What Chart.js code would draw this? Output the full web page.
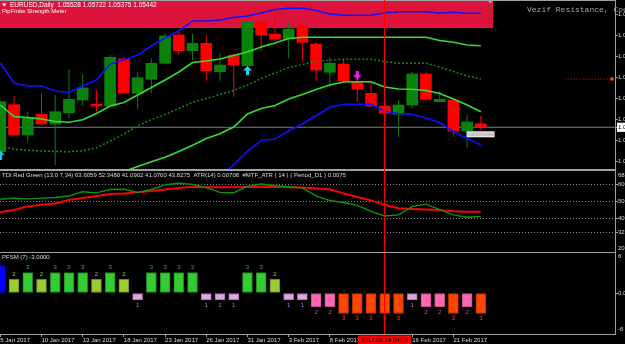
<!DOCTYPE html>
<html><head><meta charset="utf-8">
<script src="https://cdn.jsdelivr.net/npm/chart.js@4.4.0/dist/chart.umd.min.js"></script>
<style>
html,body{margin:0;padding:0;background:#000;overflow:hidden;}
#wrap{position:relative;width:625px;height:344px;background:#000;overflow:hidden;}
canvas{position:absolute;left:0;top:0;pointer-events:none;}
</style></head><body>
<div id="wrap">
<canvas id="cMain" width="625" height="344"></canvas>
<canvas id="cTdi" width="625" height="344"></canvas>
<canvas id="cPfsm" width="625" height="344"></canvas>
</div>
<script>
// ================= DATA =================
const barDates = ['5 Jan','6 Jan','9 Jan','10 Jan','11 Jan','12 Jan','13 Jan','16 Jan','17 Jan','18 Jan','19 Jan','20 Jan',
  '23 Jan','24 Jan','25 Jan','26 Jan','27 Jan','30 Jan','31 Jan','1 Feb','2 Feb','3 Feb','6 Feb','7 Feb','8 Feb','9 Feb',
  '10 Feb','13 Feb','14 Feb','15 Feb','16 Feb','17 Feb','20 Feb','21 Feb','22 Feb','23 Feb'];
const dateTickIdx = [0,3,6,9,12,15,18,21,24,30,33];
const dateTickLabels = ['5 Jan 2017','10 Jan 2017','13 Jan 2017','18 Jan 2017','23 Jan 2017','26 Jan 2017',
  '31 Jan 2017','3 Feb 2017','8 Feb 2017','16 Feb 2017','21 Feb 2017'];

const opens  = [1.04856,1.05984,1.05257,1.05754,1.05521,1.05792,1.06097,1.05999,1.05953,1.07081,1.06258,1.06594,
  1.06978,1.07657,1.07280,1.07458,1.06776,1.07177,1.06920,1.07969,1.07681,1.07561,1.07873,1.07441,1.06762,1.06961,
  1.06536,1.06258,1.05953,1.05754,1.05977,1.06721,1.06056,1.06097,1.05353,1.05528];
const highs  = [1.06080,1.06193,1.05816,1.06258,1.06217,1.06834,1.06714,1.06337,1.07177,1.07136,1.06762,1.07098,
  1.07705,1.07729,1.07681,1.07657,1.07218,1.07218,1.08041,1.08096,1.08257,1.07969,1.07921,1.07482,1.07122,1.07074,
  1.06618,1.06522,1.05999,1.06097,1.06776,1.06762,1.06313,1.06138,1.05737,1.05722];
const lows   = [1.04830,1.05240,1.05096,1.05500,1.04537,1.05658,1.05977,1.05816,1.05929,1.06253,1.05874,1.06258,
  1.06961,1.07177,1.07057,1.06560,1.06560,1.06176,1.06901,1.07256,1.07513,1.07098,1.07040,1.06553,1.06416,1.06529,
  1.06056,1.05929,1.05737,1.05202,1.05898,1.06056,1.06049,1.05240,1.04938,1.05375];
const closes = [1.06056,1.05257,1.05682,1.05521,1.05816,1.06114,1.06385,1.05953,1.07122,1.06272,1.06632,1.06978,
  1.07633,1.07280,1.07458,1.06800,1.06937,1.06937,1.07969,1.07657,1.07561,1.07801,1.07482,1.06817,1.06978,1.06553,
  1.06361,1.05953,1.05778,1.05977,1.06721,1.06114,1.06114,1.05353,1.05569,1.05442];

const upperBlue = [1.06985,1.06505,1.06433,1.06433,1.06313,1.06277,1.06433,1.06577,1.06961,1.07057,1.07177,1.07393,
  1.07585,1.07753,1.07993,1.07993,1.08017,1.08077,1.08113,1.08185,1.08269,1.08298,1.08305,1.08245,1.08161,1.08130,
  1.08130,1.08130,1.08192,1.08216,1.08216,1.08216,1.08185,1.08202,1.08178,1.08178];
const lowerBlue = [null,null,null,null,null,null,null,null,null,null,null,null,null,null,null,null,
  1.04249,1.04544,1.04873,1.05125,1.05161,1.05353,1.05521,1.05725,1.05922,1.05994,1.05994,1.05994,1.05833,1.05773,
  1.05754,1.05665,1.05557,1.05336,1.05178,1.05017];
const greenUpper = [1.05977,1.05701,1.05677,1.05641,1.05581,1.05562,1.05624,1.05773,1.05953,1.06037,1.06217,1.06397,
  1.06577,1.06769,1.06997,1.07033,1.07081,1.07165,1.07249,1.07369,1.07465,1.07573,1.07602,1.07602,1.07602,1.07602,
  1.07602,1.07602,1.07602,1.07602,1.07602,1.07602,1.07525,1.07482,1.07417,1.07400];
const greenMid = [1.04976,1.04921,1.04890,1.04873,1.04861,1.04856,1.04880,1.04945,1.05113,1.05281,1.05473,1.05629,
  1.05749,1.05893,1.06037,1.06133,1.06229,1.06325,1.06457,1.06613,1.06745,1.06877,1.06949,1.07021,1.07057,1.07074,
  1.07074,1.07074,1.07016,1.06978,1.06978,1.06978,1.06889,1.06781,1.06673,1.06601];
const greenLower = [null,null,null,null,null,null,null,null,
  1.04273,1.04381,1.04501,1.04616,1.04724,1.04861,1.05010,1.05173,1.05288,1.05449,1.05761,1.05893,1.05965,1.06121,
  1.06229,1.06349,1.06457,1.06529,1.06536,1.06536,1.06409,1.06361,1.06354,1.06325,1.06253,1.06121,1.05977,1.05816];

const priceTicks = [1.08145,1.07650,1.07140,1.06635,1.06130,1.05630,1.05135,1.04620];
const priceMin = 1.04441, priceMax = 1.08497;
const buyArrows  = [{bar:0, price:1.04777},{bar:18, price:1.06805}];
const sellArrows = [{bar:26, price:1.06697}];
const levelLine = {price:1.06601, fromBar:41.1, toBar:44.55};
const markerBox = {price:1.05274, fromBar:34.0, toBar:35.96};

const tdiRed   = [43.6,44.9,47.0,47.9,48.7,50.8,51.9,53.1,54.3,54.6,55.2,56.0,56.9,57.8,58.5,58.2,58.2,58.2,
  58.4,58.5,58.4,58.2,58.1,57.5,57.0,54.6,52.5,50.5,47.9,45.9,45.5,45.2,44.8,44.1,43.9,43.8];
const tdiGreen = [51.2,51.8,51.4,51.8,52.2,53.1,55.6,54.9,56.9,57.0,55.2,56.9,59.6,60.5,59.9,58.0,55.2,55.0,
  58.7,60.1,59.1,58.5,57.8,53.1,50.4,49.3,47.6,44.1,41.4,42.0,46.9,48.3,45.1,42.0,40.6,41.1];
const tdiLevels = [60,50,40,32];
const tdiMin = 20, tdiMax = 68;

const pfsm = [4,2,3,2,3,3,3,2,3,2,-1,3,3,3,3,-1,-1,-1,3,3,2,-1,-1,-2,-2,-3,-3,-3,-3,-3,-1,-2,-2,-3,-2,-3];
const pfsmMin = -6, pfsmMax = 6;

const crossBar = 28;
const crossLabel = '2017.02.14 04:00';
const tdiTitle = 'TDI Red Green (13,0 7,34) 63.6059 52.3480 41.0902 41.0760 43.8275  ATR(14) 0.00708  #MTF_ATR ( 14 ) ( Period_D1 ) 0.0075';

// ================= STYLE / HELPERS =================
const FONT = '"Liberation Sans", Arial, sans-serif';
const GRAY = '#a0a0a0', TXT = '#dadada';
Chart.defaults.font.family = FONT;
Chart.defaults.font.size = 6;
Chart.defaults.color = TXT;
const xMin = -0.022, xMax = 44.77;
const lastIdx = closes.length - 1;
const lastClose = closes[lastIdx];

function zeroPad(s){ s.paddingTop=0; s.paddingBottom=0; s.paddingLeft=0; s.paddingRight=0; }
function hiddenX(){ return {type:'linear', min:xMin, max:xMax, display:false, offset:false, grid:{offset:false}}; }
function pts(arr){ return arr.map((v,i)=>({x:i, y:v})); }
const common = {responsive:false, animation:false, events:[], maintainAspectRatio:false,
  plugins:{legend:{display:false}, tooltip:{enabled:false}}};

const framePlugin = {
  id:'frame',
  afterDraw(chart){
    const {ctx, chartArea:a} = chart;
    ctx.save(); ctx.strokeStyle = GRAY; ctx.lineWidth = 1;
    ctx.beginPath();
    ctx.moveTo(a.left, Math.floor(a.top)+0.5); ctx.lineTo(a.right, Math.floor(a.top)+0.5);
    ctx.moveTo(a.left, Math.floor(a.bottom)+0.5); ctx.lineTo(a.right, Math.floor(a.bottom)+0.5);
    ctx.stroke(); ctx.restore();
  }
};
const edgeLabels = {
  id:'edgeLabels',
  afterDraw(chart){
    const {ctx, chartArea:a, scales:{y}} = chart;
    ctx.save(); ctx.fillStyle = TXT; ctx.font = '6px ' + FONT;
    ctx.textAlign='left'; ctx.textBaseline='middle';
    ctx.fillText(String(y.max), a.right + 3, a.top + 4.5);
    ctx.fillText(String(y.min), a.right + 3, a.bottom - 4.5);
    ctx.restore();
  }
};

function makeArrow(color, up){
  const c = document.createElement('canvas'); c.width = 9; c.height = 9;
  const g = c.getContext('2d'); g.fillStyle = color; g.beginPath();
  if (up){ g.moveTo(4.5,0); g.lineTo(9,4.5); g.lineTo(6,4.5); g.lineTo(6,9); g.lineTo(3,9); g.lineTo(3,4.5); g.lineTo(0,4.5); }
  else   { g.moveTo(4.5,9); g.lineTo(9,4.5); g.lineTo(6,4.5); g.lineTo(6,0); g.lineTo(3,0); g.lineTo(3,4.5); g.lineTo(0,4.5); }
  g.closePath(); g.fill(); return c;
}

// ================= MAIN CHART =================
const bull = closes.map((c,i)=> c >= opens[i]);
const mainDecor = {
  id:'mainDecor',
  beforeDatasetsDraw(chart){
    const {ctx, chartArea:a} = chart;
    ctx.save(); ctx.fillStyle = '#dc143c'; ctx.fillRect(a.left, a.top, 493, 28); ctx.restore();
  },
  afterDatasetsDraw(chart){
    const ctx = chart.ctx;
    ctx.save();
    ctx.fillStyle = '#ffffff';
    ctx.beginPath(); ctx.moveTo(2,3.5); ctx.lineTo(6.5,3.5); ctx.lineTo(4.25,6.5); ctx.closePath(); ctx.fill();
    ctx.textAlign='left'; ctx.textBaseline='middle';
    ctx.font = '6.5px ' + FONT;
    ctx.fillText('EURUSD,Daily  ' + opens[lastIdx].toFixed(5) + ' ' + highs[lastIdx].toFixed(5) + ' ' +
      lows[lastIdx].toFixed(5) + ' ' + closes[lastIdx].toFixed(5), 10, 5.5);
    ctx.font = '6px ' + FONT;
    ctx.fillText('PipFinite Strength Meter', 2, 11.7);
    ctx.fillStyle = '#a8a8a8'; ctx.font = '8px "Liberation Mono", monospace';
    ctx.fillText('Vezif Resistance, Cou', 527, 10);
    ctx.fillStyle = GRAY; ctx.beginPath(); ctx.moveTo(487,0); ctx.lineTo(494,0); ctx.lineTo(490.5,3.5); ctx.closePath(); ctx.fill();
    ctx.restore();
  }
};

new Chart(document.getElementById('cMain'), {
  type:'bar',
  data:{ datasets:[
    {type:'scatter', order:0, data:buyArrows.map(a=>({x:a.bar,y:a.price})), pointStyle:makeArrow('#19d6f5',true), pointRadius:4},
    {type:'scatter', order:0, data:sellArrows.map(a=>({x:a.bar,y:a.price})), pointStyle:makeArrow('#f01cf0',false), pointRadius:4},
    {type:'line', order:1, data:pts(upperBlue), borderColor:'#1010ff', borderWidth:1.6, pointRadius:0, tension:0},
    {type:'line', order:1, data:pts(lowerBlue), borderColor:'#1010ff', borderWidth:1.6, pointRadius:0, tension:0},
    {type:'line', order:1, data:pts(greenUpper), borderColor:'#2fe02f', borderWidth:1.6, pointRadius:0, tension:0},
    {type:'line', order:1, data:pts(greenMid), borderColor:'#0b8f0b', borderWidth:1.5, borderDash:[2,2], pointRadius:0, tension:0},
    {type:'line', order:1, data:pts(greenLower), borderColor:'#2fe02f', borderWidth:1.6, pointRadius:0, tension:0},
    {type:'line', order:2, data:[{x:levelLine.fromBar,y:levelLine.price},{x:levelLine.toBar,y:levelLine.price}],
      borderColor:'#c03a10', borderWidth:1, borderDash:[1,2], pointRadius:[0,2], pointStyle:'rect',
      pointBackgroundColor:'#ff6a00', pointBorderColor:'#d02000', pointBorderWidth:0.5},
    {type:'line', order:2.5, data:[{x:markerBox.fromBar,y:markerBox.price},{x:markerBox.toBar,y:markerBox.price}],
      borderColor:'#c8c8c8', borderWidth:4, borderCapStyle:'butt', pointRadius:0},
    {type:'line', order:3, data:[{x:markerBox.fromBar-0.04,y:markerBox.price},{x:markerBox.toBar+0.04,y:markerBox.price}],
      borderColor:'#f4f4f4', borderWidth:6, borderCapStyle:'butt', pointRadius:0},
    {type:'bar', order:5, grouped:false, barThickness:11, minBarLength:1.5,
      data:opens.map((o,i)=>({x:i, y:[o, closes[i]]})),
      backgroundColor:bull.map(b=> b ? '#0b820b' : '#ff0000'), borderWidth:0},
    {type:'bar', order:6, grouped:false, barThickness:1, inflateAmount:0,
      data:lows.map((l,i)=>({x:i, y:[l, highs[i]]})),
      backgroundColor:bull.map(b=> b ? '#127a12' : '#ff0000'), borderWidth:0},
    {type:'line', order:7, data:[{x:xMin,y:lastClose},{x:xMax,y:lastClose}], borderColor:'#7a7a7a', borderWidth:1, pointRadius:0}
  ]},
  options:Object.assign({}, common, {
    layout:{autoPadding:false, padding:{top:0, bottom:175, left:0, right:0}},
    scales:{
      x: hiddenX(),
      y: {type:'linear', position:'right', min:priceMin, max:priceMax,
        afterFit(s){ s.width = 10; zeroPad(s); },
        afterBuildTicks(s){ s.ticks = priceTicks.concat([lastClose]).map(v=>({value:v})); },
        ticks:{ callback:v=>Number(v).toFixed(5), padding:0, autoSkip:false,
          color:c=> (c.tick && c.tick.value===lastClose) ? '#000' : TXT,
          showLabelBackdrop:c=> !!(c.tick && c.tick.value===lastClose), backdropColor:'#ffffff', backdropPadding:1 },
        grid:{drawOnChartArea:false, drawTicks:true, tickLength:3, color:GRAY},
        border:{display:true, color:GRAY}
      }
    }
  }),
  plugins:[mainDecor, framePlugin]
});

// ================= TDI CHART =================
const tdiDecor = {
  id:'tdiDecor',
  afterDraw(chart){
    const {ctx, chartArea:a} = chart;
    ctx.save(); ctx.fillStyle = TXT; ctx.font = '6px ' + FONT; ctx.textAlign='left'; ctx.textBaseline='middle';
    ctx.fillText(tdiTitle, 2, a.top + 5.3); ctx.restore();
  }
};
new Chart(document.getElementById('cTdi'), {
  type:'line',
  data:{ datasets:[
    {data:pts(tdiGreen), borderColor:'#0c960c', borderWidth:1.4, pointRadius:0, tension:0},
    {data:pts(tdiRed), borderColor:'#ff0000', borderWidth:2, pointRadius:0, tension:0}
  ]},
  options:Object.assign({}, common, {
    layout:{autoPadding:false, padding:{top:170.5, bottom:91.5, left:0, right:0}},
    scales:{
      x: hiddenX(),
      y: {type:'linear', position:'right', min:tdiMin, max:tdiMax,
        afterFit(s){ s.width = 10; zeroPad(s); },
        afterBuildTicks(s){ s.ticks = tdiLevels.map(v=>({value:v})); },
        ticks:{padding:0, autoSkip:false},
        grid:{drawOnChartArea:true, drawTicks:true, tickLength:3, color:'#8a8a8a', tickColor:GRAY},
        border:{display:true, color:GRAY, dash:[1,2]}
      }
    }
  }),
  plugins:[tdiDecor, framePlugin, edgeLabels]
});

// ================= PFSM CHART =================
function pfsmFill(v){ return v>=4?'#0000ff': v===3?'#33cc33': v===2?'#9acd32': v===-1?'#e0a6e4': v===-2?'#ff69b4':'#ff4500'; }
function pfsmEdge(v){ return v>=4?'#0000ff': v===3?'#1f801f': v===2?'#6b8e23': v===-1?'#a070a8': v===-2?'#c84a8e':'#b83200'; }
function pfsmText(v){ return v===3?'#3fae3f': v===2?'#9acd32': v===-1?'#a888d8': v===-2?'#d0509a':'#ff4a10'; }
const pfsmDecor = {
  id:'pfsmDecor',
  afterDatasetsDraw(chart){
    const {ctx, chartArea:a} = chart;
    const meta = chart.getDatasetMeta(0);
    ctx.save(); ctx.font = '6px ' + FONT; ctx.textAlign='center'; ctx.textBaseline='middle';
    meta.data.forEach((bar,i)=>{
      const v = pfsm[i];
      if (v >= 4) return;
      ctx.fillStyle = pfsmText(v);
      ctx.fillText(String(Math.abs(v)), bar.x, v > 0 ? bar.y - 5 : bar.y + 5.3);
    });
    ctx.fillStyle = TXT; ctx.textAlign='left';
    ctx.fillText('PFSM (7) ' + pfsm[pfsm.length-1].toFixed(4), 2, a.top + 5.3);
    ctx.restore();
  },
  afterDraw(chart){
    const {ctx, chartArea:a, scales:{x}} = chart;
    const px = Math.floor(x.getPixelForValue(crossBar)) + 0.5;
    ctx.save(); ctx.strokeStyle = '#ff0000'; ctx.lineWidth = 1;
    ctx.beginPath(); ctx.moveTo(px, 0); ctx.lineTo(px, a.bottom + 1); ctx.stroke();
    ctx.font = '6px ' + FONT;
    const w = ctx.measureText(crossLabel).width + 6;
    ctx.fillStyle = '#ff0000'; ctx.fillRect(px - w/2, a.bottom + 1.5, w, 9);
    ctx.fillStyle = '#000000'; ctx.textAlign='center'; ctx.textBaseline='middle';
    ctx.fillText(crossLabel, px, a.bottom + 6);
    ctx.restore();
  }
};
new Chart(document.getElementById('cPfsm'), {
  type:'bar',
  data:{ datasets:[
    {data:pts(pfsm), barThickness:10, grouped:false,
      backgroundColor:pfsm.map(pfsmFill), borderColor:pfsm.map(pfsmEdge), borderWidth:1, borderSkipped:false}
  ]},
  options:Object.assign({}, common, {
    layout:{autoPadding:false, padding:{top:252, bottom:0, left:0, right:0}},
    scales:{
      x: {type:'linear', min:xMin, max:xMax, position:'bottom', offset:false,
        afterFit(s){ s.height = 10; zeroPad(s); },
        afterBuildTicks(s){ s.ticks = dateTickIdx.map(v=>({value:v})); },
        ticks:{align:'start', autoSkip:false, maxRotation:0, minRotation:0, padding:0,
          callback:v=> dateTickLabels[dateTickIdx.indexOf(v)]},
        grid:{drawOnChartArea:false, drawTicks:true, tickLength:3, color:GRAY, offset:false},
        border:{display:false}
      },
      y: {type:'linear', position:'right', min:pfsmMin, max:pfsmMax,
        afterFit(s){ s.width = 10; zeroPad(s); },
        afterBuildTicks(s){ s.ticks = [{value:0}]; },
        ticks:{padding:0, callback:v=>Number(v).toFixed(1)},
        grid:{drawOnChartArea:false, drawTicks:true, tickLength:3, color:GRAY},
        border:{display:true, color:GRAY}
      }
    }
  }),
  plugins:[pfsmDecor, framePlugin, edgeLabels]
});
</script>
</body></html>
